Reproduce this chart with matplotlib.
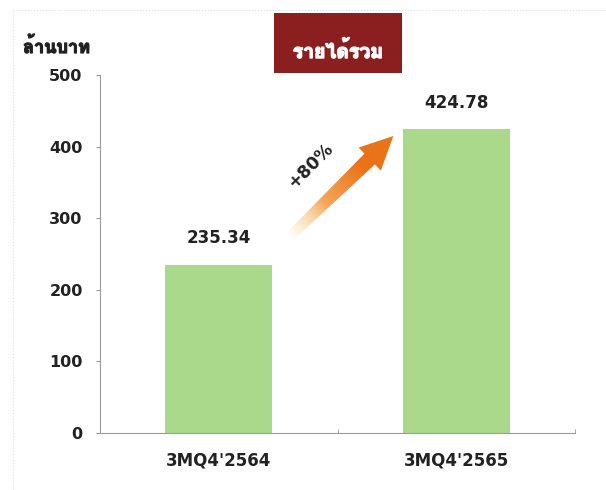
import numpy as np
import matplotlib
matplotlib.use('Agg')
import matplotlib.pyplot as plt
from matplotlib import font_manager
from matplotlib.ft2font import FT2Font
from matplotlib.patches import Polygon, Rectangle
from matplotlib.lines import Line2D
import matplotlib.patheffects as pe

categories = ["3MQ4'2564", "3MQ4'2565"]
values = [235.34, 424.78]
yticks = [0, 100, 200, 300, 400, 500]
growth_label = '+80%'
unit_label = 'ล้านบาท'
title_label = 'รายได้รวม'


# find an installed font that has Thai glyphs, prefer one with a bold face
def find_thai_font():
    found = []
    for f in font_manager.fontManager.ttflist:
        try:
            ft = FT2Font(f.fname)
            if ft.get_char_index(ord('ก')) != 0 and ft.get_char_index(ord('า')) != 0:
                found.append(f)
        except Exception:
            pass
    if not found:
        return 'DejaVu Sans'
    bold = [f for f in found if isinstance(f.weight, int) and f.weight >= 600
            or f.weight in ('bold', 'heavy', 'black', 'semibold', 'demibold')]
    return (bold or found)[0].name


thai_font = find_thai_font()
plt.rcParams['font.family'] = ['DejaVu Sans', thai_font]

dark = '#222222'
green = '#AAD98B'
axis_grey = '#9a9a9a'

fig = plt.figure(figsize=(6.06, 4.9), dpi=100)
ax = fig.add_axes([0.165, 0.1163, 0.784, 0.7306])

x = np.arange(len(categories))
ax.bar(x, values, width=0.45, color=green, zorder=2)

for xi, v in zip(x, values):
    ax.text(xi, v + 24, f'{v:.2f}', ha='center', va='bottom', fontsize=12,
            fontweight='bold', color=dark)

ax.set_xlim(-0.5, 1.5)
ax.set_ylim(0, 500)
ax.set_yticks(yticks)
ax.set_xticks(x)
ax.set_xticklabels(categories)
ax.set_xticks([-0.5, 0.5, 1.5], minor=True)
for lab in ax.get_xticklabels() + ax.get_yticklabels():
    lab.set_fontweight('bold')
    lab.set_color(dark)
ax.tick_params(axis='y', labelsize=11.5, length=3, color=axis_grey, pad=9.5)
ax.tick_params(axis='x', which='major', length=0, labelsize=12, pad=13.5)
ax.tick_params(axis='x', which='minor', length=3, color=axis_grey, direction='in')
for s in ['top', 'right']:
    ax.spines[s].set_visible(False)
ax.spines['left'].set_color(axis_grey)
ax.spines['bottom'].set_color(axis_grey)

# gradient arrow between the bars
fig.canvas.draw()
to_px = ax.transData
tail = to_px.transform((0.29, values[0] + 36))
tip = to_px.transform((0.735, values[1] - 10))
d = tip - tail
L = np.hypot(*d)
u = d / L
n = np.array([-u[1], u[0]])
head_len, head_w, shaft_w0, shaft_w1 = 33, 16, 5, 7.5
base = tip - u * head_len
pts_px = [tail + n * shaft_w0, base + n * shaft_w1, base + n * head_w, tip,
          base - n * head_w, base - n * shaft_w1, tail - n * shaft_w0]
inv = to_px.inverted()
pts = inv.transform(pts_px)
poly = Polygon(pts, closed=True, facecolor='none', edgecolor='none',
               transform=ax.transData)
ax.add_patch(poly)

xmin_px, ymin_px = np.min(pts_px, axis=0) - 2
xmax_px, ymax_px = np.max(pts_px, axis=0) + 2
nx, ny = int(xmax_px - xmin_px), int(ymax_px - ymin_px)
gx, gy = np.meshgrid(np.linspace(xmin_px, xmax_px, nx),
                     np.linspace(ymin_px, ymax_px, ny))
t = ((gx - tail[0]) * u[0] + (gy - tail[1]) * u[1]) / L
t = np.clip(t, 0, 1)
c0 = np.array([0.99, 0.86, 0.60])
c1 = np.array([0.92, 0.45, 0.10])
w = np.clip(t / 0.7, 0, 1)[..., None]
img = np.zeros((ny, nx, 4))
img[..., :3] = c0 * (1 - w) + c1 * w
img[..., 3] = np.clip(t / 0.35, 0, 1)
lo = inv.transform((xmin_px, ymin_px))
hi = inv.transform((xmax_px, ymax_px))
im = ax.imshow(img, extent=(lo[0], hi[0], lo[1], hi[1]), origin='lower',
               aspect='auto', zorder=3, interpolation='bilinear')
im.set_clip_path(poly)
ax.set_xlim(-0.5, 1.5)
ax.set_ylim(0, 500)

ax.text(0.385, 373, growth_label, rotation=45, ha='center', va='center',
        fontsize=12.5, fontweight='bold', color=dark, rotation_mode='anchor')

# labels above the axes (stroke thickens the Thai font, which has no bold face)
fig.text(23 / 606, 1 - 53 / 490, unit_label, ha='left', va='baseline',
         fontsize=13, fontweight='bold', color=dark,
         path_effects=[pe.withStroke(linewidth=0.9, foreground=dark)])
fig.patches.append(Rectangle((274 / 606, 1 - 73 / 490), 128 / 606, 60 / 490,
                             transform=fig.transFigure, facecolor='#8B1E1E',
                             edgecolor='none'))
fig.text(338 / 606, 1 - 58 / 490, title_label, ha='center', va='baseline',
         fontsize=14, fontweight='bold', color='white',
         path_effects=[pe.withStroke(linewidth=1.0, foreground='white')])

# faint frame of the original slide
fig.add_artist(Line2D([13 / 606, 1], [1 - 10 / 490, 1 - 10 / 490],
                      transform=fig.transFigure, color='#dddddd', lw=0.8, ls=':'))
fig.add_artist(Line2D([13 / 606, 13 / 606], [0, 1 - 10 / 490],
                      transform=fig.transFigure, color='#dddddd', lw=0.8, ls=':'))

fig.savefig('out.png', dpi=100)
